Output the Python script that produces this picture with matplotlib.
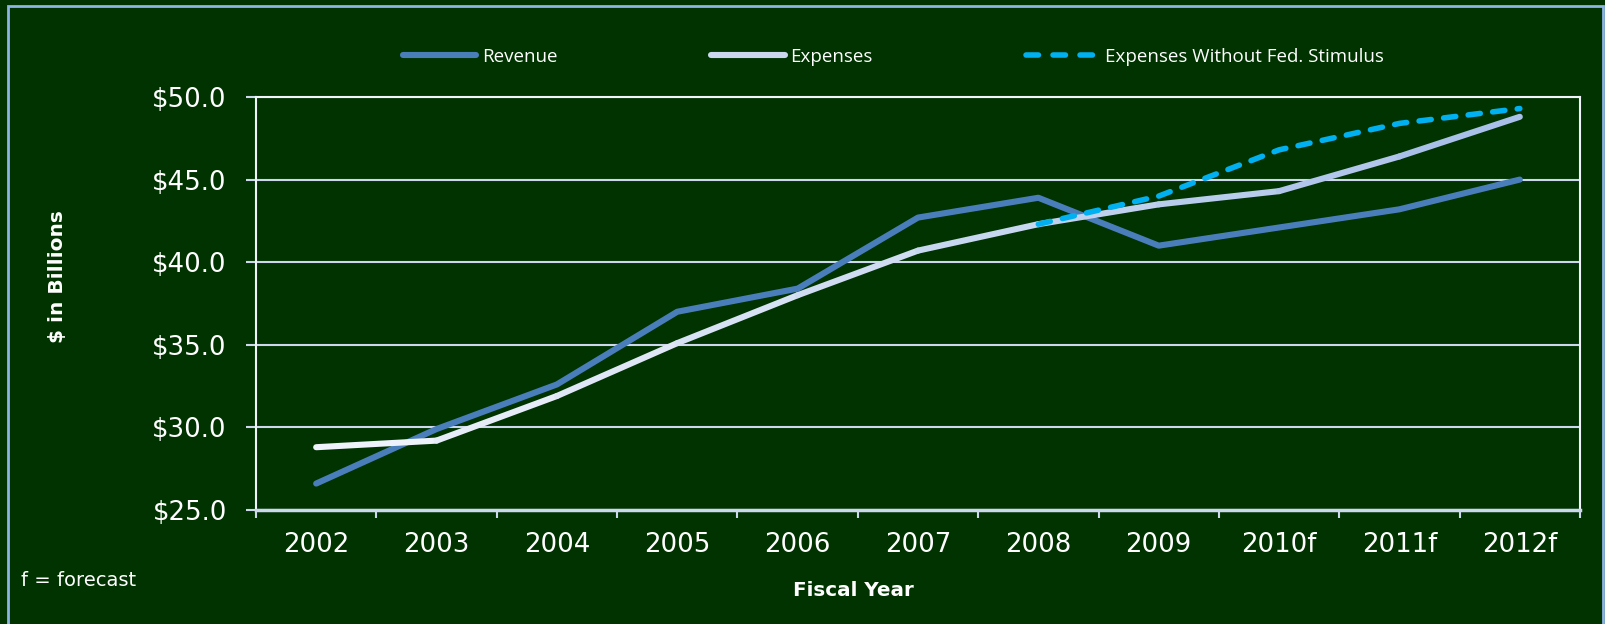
import matplotlib.pyplot as plt
import numpy as np
from matplotlib.collections import LineCollection
from matplotlib.colors import LinearSegmentedColormap
from matplotlib.lines import Line2D
from matplotlib.patches import Rectangle

years = ['2002', '2003', '2004', '2005', '2006', '2007', '2008', '2009', '2010f', '2011f', '2012f']
revenue = [26.6, 29.9, 32.6, 37.0, 38.4, 42.7, 43.9, 41.0, 42.1, 43.2, 45.0]
expenses = [28.8, 29.2, 31.9, 35.1, 38.0, 40.7, 42.3, 43.5, 44.3, 46.4, 48.8]
no_stim_years = ['2008', '2009', '2010f', '2011f', '2012f']
no_stim = [42.3, 44.0, 46.8, 48.4, 49.3]

bg = '#003300'
rev_col = '#4a7ebb'
stim_col = '#00b0f0'
grid_col = '#cdd8ec'

fig = plt.figure(figsize=(16.06, 6.24), dpi=100, facecolor=bg)
ax = fig.add_axes([0.1594, 0.1827, 0.9838 - 0.1594, 0.8446 - 0.1827])
ax.set_facecolor(bg)

x = np.arange(len(years))
xs = [years.index(y) for y in no_stim_years]

ax.plot(x, revenue, color=rev_col, lw=4.4, solid_capstyle='round', solid_joinstyle='round', zorder=3)

# expenses line fades from near white to pale blue
pts = np.column_stack([x, expenses])
segs = np.stack([pts[:-1], pts[1:]], axis=1)
cmap = LinearSegmentedColormap.from_list('exp', ['#eef2fa', '#a9c1e8'])
lc = LineCollection(segs, colors=cmap(np.linspace(0, 1, len(segs))), lw=4.4,
                    capstyle='round', joinstyle='round', zorder=4)
ax.add_collection(lc)

ax.plot(xs, no_stim, color=stim_col, lw=4.0, dashes=(2.2, 2.25), dash_capstyle='round', zorder=5)

ax.set_xlim(-0.5, len(years) - 0.5)
ax.set_ylim(25, 50)
ax.set_yticks([25, 30, 35, 40, 45, 50])
ax.set_yticklabels(['$%.1f' % v for v in [25, 30, 35, 40, 45, 50]])
ax.set_xticks(x)
ax.set_xticklabels(years)
ax.set_xticks(np.arange(-0.5, len(years)), minor=True)
ax.tick_params(axis='x', which='major', length=0, pad=16, labelsize=18.7, labelcolor='white')
ax.tick_params(axis='x', which='minor', length=6, width=1.5, color=grid_col, direction='out')
ax.tick_params(axis='y', length=7, width=1.5, color=grid_col, pad=14, labelsize=18.7, labelcolor='white')

ax.yaxis.grid(True, color=grid_col, lw=1.5, zorder=1)
ax.set_axisbelow(True)
for side in ['left', 'top', 'right']:
    ax.spines[side].set_color('#f0f3fa')
    ax.spines[side].set_linewidth(1.5)
ax.spines['bottom'].set_color(grid_col)
ax.spines['bottom'].set_linewidth(2.5)

fig.text(58 / 1606, 1 - 277 / 624, '$ in Billions', rotation=90, color='white', fontsize=14.5,
         fontweight='bold', ha='center', va='center')
fig.text(853 / 1606, 1 - 590 / 624, 'Fiscal Year', color='white', fontsize=14.3,
         fontweight='bold', ha='center', va='center')
fig.text(21 / 1606, 1 - 580 / 624, 'f = forecast', color='white', fontsize=14, ha='left', va='center')

handles = [Line2D([], [], color=rev_col, lw=4.4, solid_capstyle='round'),
           Line2D([], [], color='#cbd7ee', lw=4.4, solid_capstyle='round'),
           Line2D([], [], color=stim_col, lw=4.0, dashes=(2.24, 2.62), dash_capstyle='round')]
leg = fig.legend(handles, ['Revenue', 'Expenses', 'Expenses Without Fed. Stimulus'],
                 loc='center left', bbox_to_anchor=(394 / 1606, 1 - 57 / 624), ncol=3,
                 frameon=False, borderpad=0, handlelength=3.9, handletextpad=0.3,
                 columnspacing=8.2, prop={'family': 'Open Sans', 'size': 13.5})
for t in leg.get_texts():
    t.set_color('white')

fig.patches.append(Rectangle((8 / 1606, -0.05), (1603 - 8) / 1606, 1.05 - 6 / 624,
                             transform=fig.transFigure, fill=False, ec='#8eb4e3', lw=2))

fig.savefig('out.png', dpi=100, facecolor=bg)
